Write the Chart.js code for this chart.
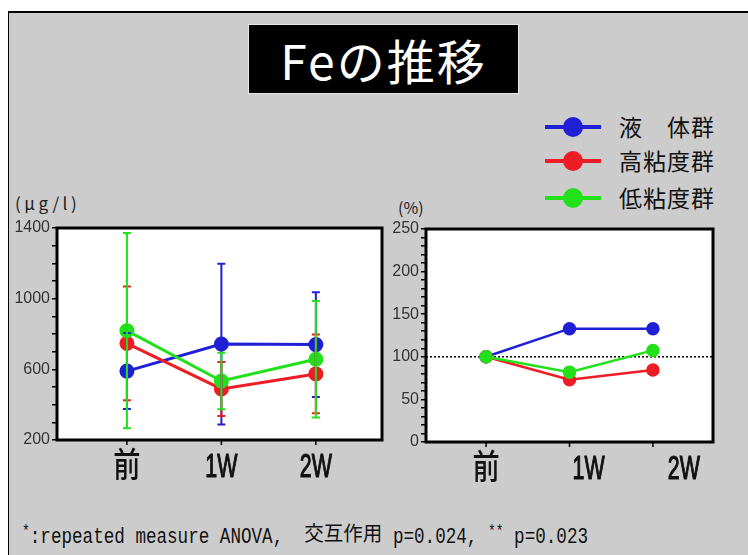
<!DOCTYPE html>
<html>
<head>
<meta charset="utf-8">
<script src="https://cdn.jsdelivr.net/npm/chart.js@4/dist/chart.umd.min.js"></script>
<style>
  html, body { margin: 0; padding: 0; }
  body { width: 748px; height: 555px; position: relative; overflow: hidden; background: #ffffff; }
  #panel { position: absolute; left: 8px; top: 11px; width: 740px; height: 544px; background: #cccccc;
           border-top: 2px solid #000; border-left: 1.5px solid #000; box-sizing: border-box; }
  #title { position: absolute; left: 248px; top: 24px; width: 271px; height: 70px; background: #000;
           box-shadow: 0 0 0 1px #e8e8e8 inset; color: #fff; font-family: "Noto Sans CJK JP", sans-serif;
           font-size: 48px; line-height: 70px; text-align: center; letter-spacing: 2px; }
  canvas { position: absolute; }
  .lg { position: absolute; left: 545px; width: 56px; height: 4px; }
  .lg i { position: absolute; left: 18px; top: -8px; width: 20px; height: 20px; border-radius: 50%; }
  .lgt { position: absolute; left: 619px; font-family: "Noto Sans CJK JP", sans-serif; font-size: 23px;
         color: #111; line-height: 30px; letter-spacing: 1px; }
  .unit { position: absolute; font-family: "Noto Sans CJK JP", sans-serif; color: #222; font-size: 17px; line-height: 20px; }
  .star { position: absolute; font-family: "Liberation Mono", monospace; color: #333; font-size: 18px; line-height: 20px; }
  #note { position: absolute; left: 22px; top: 522px; font-family: "Liberation Mono", monospace; font-size: 17.6px;
          color: #111; white-space: pre; line-height: 22px; transform: scaleY(1.3); transform-origin: 0 50%; }
  #note sup { font-size: 13px; vertical-align: 5px; line-height: 0; }
  #note .cj { display: inline-block; font-family: "Noto Sans CJK JP", sans-serif; font-size: 19.5px; transform: scaleY(0.8); }
</style>
</head>
<body>
<div id="panel"></div>
<div id="title">Feの推移</div>

<div class="lg" style="top:125px;background:#1f1fd6"><i style="background:#1f1fd6"></i></div>
<div class="lg" style="top:159px;background:#ee1c24"><i style="background:#ee1c24"></i></div>
<div class="lg" style="top:196px;background:#22e01a"><i style="background:#22e01a"></i></div>
<div class="lgt" style="top:111px">液　体群</div>
<div class="lgt" style="top:145px">高粘度群</div>
<div class="lgt" style="top:182px">低粘度群</div>

<div class="unit" style="left:15px;top:193px;letter-spacing:3.5px">(μg/l)</div>
<div class="unit" style="left:398px;top:197px;font-size:16px">(%)</div>
<div class="star" style="left:340px;top:328px">*</div>
<div class="star" style="left:682px;top:309px">**</div>

<canvas id="abs" width="400" height="300" style="left:0;top:190px"></canvas>
<canvas id="pct" width="358" height="300" style="left:390px;top:190px"></canvas>

<div id="note"><sup>*</sup>:repeated measure ANOVA,  <span class="cj">交互作用</span> p=0.024, <sup>**</sup> p=0.023</div>

<script>
// Groups and time points
const groups = ['液　体群', '高粘度群', '低粘度群'];
const timepoints = ['前', '1W', '2W'];
const colors = ['#1f1fd6', '#ee1c24', '#22e01a'];

// Serum Fe (μg/l): mean and SD per group
const feLiquid = [590, 743, 740];
const feHigh = [747, 489, 574];
const feLow = [819, 534, 657];
const sdLiquid = [215, 455, 297];
const sdHigh = [322, 153, 223];
const sdLow = [553, 160, 330];

// Fe relative to baseline (%)
const pctLiquid = [100, 133, 133];
const pctHigh = [100, 73, 84.5];
const pctLow = [100, 82, 107.5];

// Labelled y ticks
const feTicks = [200, 600, 1000, 1400];
const pctTicks = [0, 50, 100, 150, 200, 250];

const toXY = arr => arr.map((v, i) => ({ x: i, y: v }));

// White plot area, black frame, x tick marks and labels, reference line and error bars
const framePlugin = {
  id: 'frame',
  beforeDraw(chart) {
    const a = chart.chartArea, c = chart.ctx;
    c.save();
    c.fillStyle = '#ffffff';
    c.fillRect(a.left, a.top, a.right - a.left, a.bottom - a.top);
    c.restore();
  },
  beforeDatasetsDraw(chart, args, opts) {
    const c = chart.ctx, a = chart.chartArea;
    if (opts.refLine !== undefined) {
      const y = chart.scales.y.getPixelForValue(opts.refLine);
      c.save();
      c.strokeStyle = '#000';
      c.lineWidth = 1.5;
      c.setLineDash([2, 2]);
      c.beginPath(); c.moveTo(a.left, y); c.lineTo(a.right, y); c.stroke();
      c.restore();
    }
  },
  afterDatasetsDraw(chart) {
    const c = chart.ctx, ys = chart.scales.y, xs = chart.scales.x;
    chart.data.datasets.forEach(ds => {
      if (!ds.sd) return;
      c.save();
      c.strokeStyle = ds.borderColor;
      c.lineWidth = 2;
      ds.data.forEach((p, i) => {
        const x = xs.getPixelForValue(p.x);
        const yt = ys.getPixelForValue(p.y + ds.sd[i]);
        const yb = ys.getPixelForValue(p.y - ds.sd[i]);
        c.beginPath();
        c.moveTo(x, yt); c.lineTo(x, yb);
        c.moveTo(x - 4, yt); c.lineTo(x + 4, yt);
        c.moveTo(x - 4, yb); c.lineTo(x + 4, yb);
        c.stroke();
      });
      c.restore();
    });
  },
  afterDraw(chart, args, opts) {
    const a = chart.chartArea, c = chart.ctx, xs = chart.scales.x;
    c.save();
    c.strokeStyle = '#000';
    c.lineWidth = 3;
    c.strokeRect(a.left, a.top, a.right - a.left, a.bottom - a.top);
    c.lineWidth = 1.5;
    timepoints.forEach((t, i) => {
      const x = xs.getPixelForValue(i);
      c.beginPath(); c.moveTo(x, a.bottom + 1); c.lineTo(x, a.bottom + 5); c.stroke();
    });
    // condensed category labels
    c.fillStyle = '#111';
    c.strokeStyle = '#111';
    c.lineWidth = 1.2;
    c.textAlign = 'center';
    c.textBaseline = 'middle';
    timepoints.forEach((t, i) => {
      const cjk = /[\u4e00-\u9fff]/.test(t);
      const x = xs.getPixelForValue(opts.labelPos[i]);
      c.font = (cjk ? '500 ' : '') + '34px "Liberation Sans", "Noto Sans CJK JP", sans-serif';
      c.save();
      c.translate(x, a.bottom + 28);
      c.scale(cjk ? 0.8 : 0.63, 1);
      c.fillText(t, 0, 0);
      if (!cjk) c.strokeText(t, 0, 0);
      c.restore();
    });
    c.restore();
  }
};

const tickFont = { family: '"Liberation Sans", sans-serif', size: 16 };

function makeChart(id, series, sds, yMin, yMax, yLabels, xRange, labelPos, layout, yWidth, xHeight, radius, lw) {
  return new Chart(document.getElementById(id), {
    type: 'line',
    data: {
      datasets: series.map((s, k) => ({
        label: groups[k],
        data: toXY(s),
        sd: sds ? sds[k] : null,
        borderColor: colors[k],
        backgroundColor: colors[k],
        pointBackgroundColor: colors[k],
        pointBorderColor: colors[k],
        pointRadius: radius,
        borderWidth: lw,
        tension: 0,
        clip: false,
        order: 2 - k
      }))
    },
    options: {
      responsive: false,
      animation: false,
      devicePixelRatio: 1,
      layout: { padding: layout },
      plugins: {
        legend: { display: false },
        tooltip: { enabled: false },
        frame: { refLine: id === 'pct' ? 100 : undefined, labelPos: labelPos }
      },
      scales: {
        x: {
          type: 'linear',
          min: xRange[0], max: xRange[1],
          grid: { display: false },
          border: { display: false },
          ticks: { display: false },
          afterFit: s => { s.height = xHeight; }
        },
        y: {
          min: yMin, max: yMax,
          grid: { drawOnChartArea: false, drawTicks: true, tickLength: 5, color: '#000', lineWidth: 1.5 },
          border: { display: false },
          afterFit: s => { s.width = yWidth; },
          ticks: {
            stepSize: id === 'pct' ? 10 : 100,
            padding: 2,
            color: '#333',
            font: tickFont,
            autoSkip: false,
            callback: v => yLabels.includes(v) ? String(v) : ''
          }
        }
      }
    },
    plugins: [framePlugin]
  });
}

makeChart('abs', [feLiquid, feHigh, feLow], [sdLiquid, sdHigh, sdLow], 200, 1400, feTicks,
  [-0.74, 2.70], [0, 1, 2], { left: 0, top: 38, right: 18, bottom: 0 }, 57, 50, 6, 3);

makeChart('pct', [pctLiquid, pctHigh, pctLow], null, 0, 250, pctTicks,
  [-0.72, 2.72], [0, 1.23, 2.37], { left: 0, top: 39, right: 35, bottom: 0 }, 36, 48, 5.5, 2.5);
</script>
</body>
</html>
